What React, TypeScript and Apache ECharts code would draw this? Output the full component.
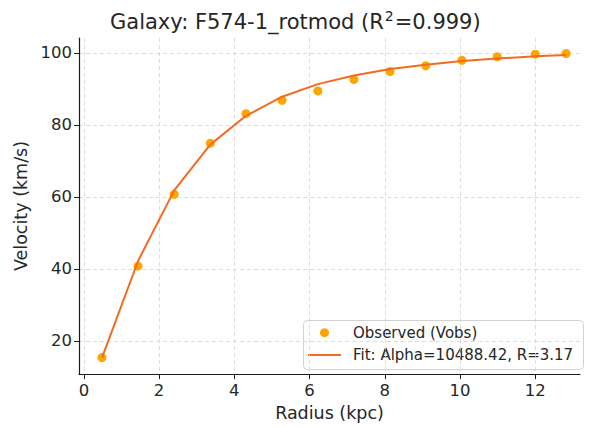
import React, { useEffect, useRef } from "react";
import * as echarts from "echarts";

// Observed rotation curve of F574-1 (radius in kpc, velocity in km/s)
const radius = [0.48, 1.44, 2.4, 3.36, 4.31, 5.27, 6.22, 7.18, 8.14, 9.09, 10.05, 10.99, 12.0, 12.82];
const vObs = [15.4, 40.8, 60.7, 74.9, 83.1, 86.8, 89.4, 92.6, 94.8, 96.4, 97.9, 98.9, 99.6, 99.8];
// Fitted model velocities at the same radii
const vFit = [15.3, 42.2, 61.8, 74.5, 82.5, 87.8, 91.3, 93.7, 95.5, 96.7, 97.7, 98.4, 99.0, 99.4];

const xTicks = [0, 2, 4, 6, 8, 10, 12];
const yTicks = [20, 40, 60, 80, 100];

const OBS_NAME = "Observed (Vobs)";
const FIT_NAME = "Fit: Alpha=10488.42, R=3.17";

const FONT = "DejaVu Sans";
const INK = "#262626";
const OBS_COLOR = "#FFA500";
const FIT_COLOR = "#F26B21";

export default function App() {
  const ref = useRef<HTMLDivElement>(null);

  useEffect(() => {
    if (!ref.current) return;
    const chart = echarts.init(ref.current, null, { renderer: "svg" });

    const obs = radius.map((r, i) => [r, vObs[i]]);
    const fit = radius.map((r, i) => [r, vFit[i]]);

    const gridLine = { show: true, lineStyle: { color: "#d4d4d4", type: [4, 3] as any, width: 0.8 } };
    const legendFont = { fontSize: 15, fontFamily: FONT, fill: INK, verticalAlign: "middle", align: "left" };

    chart.setOption({
      animation: false,
      backgroundColor: "#ffffff",
      textStyle: { fontFamily: FONT, color: INK },
      title: {
        text: "{t|Galaxy: F574-1_rotmod (R}{s|2}{t|=0.999)}",
        left: 105,
        top: -3,
        textStyle: {
          fontWeight: "normal",
          rich: {
            t: { fontSize: 21, fontFamily: FONT, fontWeight: "normal", color: INK, lineHeight: 30, verticalAlign: "bottom" },
            s: { fontSize: 14, fontFamily: FONT, fontWeight: "normal", color: INK, lineHeight: 30, verticalAlign: "bottom", padding: [0, 1, 9, 1] },
          },
        },
      },
      grid: { left: 79, right: 12, top: 38, bottom: 50 },
      xAxis: {
        type: "value",
        min: -0.13,
        max: 13.19,
        name: "Radius (kpc)",
        nameLocation: "middle",
        nameGap: 29,
        nameTextStyle: { fontSize: 17.5, fontFamily: FONT, color: INK, verticalAlign: "top" },
        axisLine: { show: true, onZero: false, lineStyle: { color: "#1a1a1a", width: 1.2 } },
        axisTick: { show: true, customValues: xTicks, length: 5, lineStyle: { color: "#1a1a1a", width: 1 } },
        axisLabel: { customValues: xTicks, fontSize: 16.5, fontFamily: FONT, color: INK, margin: 8 },
        splitLine: gridLine,
      },
      yAxis: {
        type: "value",
        min: 10.8,
        max: 104.1,
        name: "Velocity (km/s)",
        nameLocation: "middle",
        nameGap: 46,
        nameRotate: 90,
        nameTextStyle: { fontSize: 17.5, fontFamily: FONT, color: INK },
        axisLine: { show: true, onZero: false, lineStyle: { color: "#1a1a1a", width: 1.2 } },
        axisTick: { show: true, customValues: yTicks, length: 5, lineStyle: { color: "#1a1a1a", width: 1 } },
        axisLabel: { customValues: yTicks, fontSize: 16.5, fontFamily: FONT, color: INK, margin: 7 },
        splitLine: gridLine,
      },
      // legend box: frame, swatches and labels
      graphic: [
        {
          type: "group",
          z: 10,
          children: [
            {
              type: "rect",
              shape: { x: 303.5, y: 320.5, width: 280, height: 49, r: 4 },
              style: { fill: "#ffffff", stroke: "#d2d2d2", lineWidth: 1 },
            },
            {
              type: "circle",
              shape: { cx: 324.5, cy: 332.7, r: 4.5 },
              style: { fill: OBS_COLOR },
            },
            {
              type: "line",
              shape: { x1: 308, y1: 355, x2: 341, y2: 355 },
              style: { stroke: FIT_COLOR, lineWidth: 2 },
            },
            {
              type: "text",
              x: 353,
              y: 332.7,
              style: { text: OBS_NAME, ...legendFont },
            },
            {
              type: "text",
              x: 353,
              y: 355,
              style: { text: FIT_NAME, ...legendFont },
            },
          ],
        },
      ],
      series: [
        {
          name: OBS_NAME,
          type: "scatter",
          data: obs,
          symbol: "circle",
          symbolSize: 9,
          itemStyle: { color: OBS_COLOR, opacity: 1 },
          z: 2,
        },
        {
          name: FIT_NAME,
          type: "line",
          data: fit,
          symbol: "none",
          lineStyle: { color: FIT_COLOR, width: 2 },
          itemStyle: { color: FIT_COLOR },
          z: 3,
        },
      ],
    });

    return () => chart.dispose();
  }, []);

  return <div ref={ref} style={{ position: "fixed", left: 0, top: 0, width: 592, height: 427 }} />;
}
